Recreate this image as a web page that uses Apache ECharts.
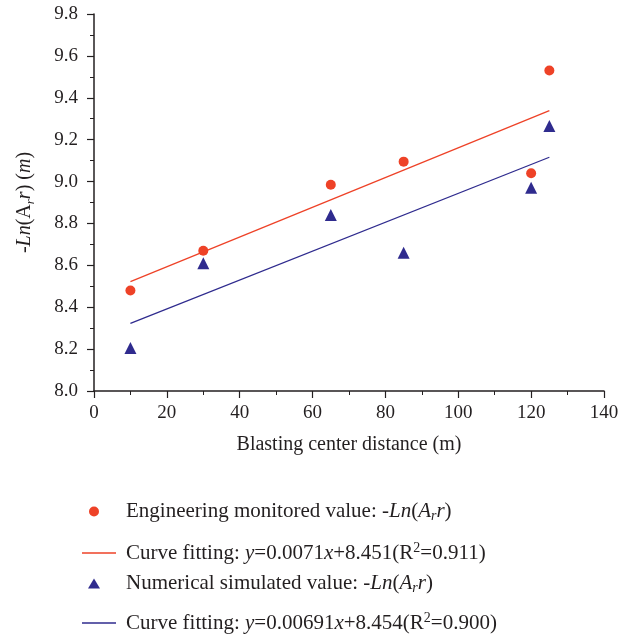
<!DOCTYPE html>
<html>
<head>
<meta charset="utf-8">
<script src="https://cdn.jsdelivr.net/npm/echarts@6/dist/echarts.min.js"></script>
<style>html,body{margin:0;padding:0;background:#fff;}#chart{width:632px;height:640px;}</style>
</head>
<body>
<div id="chart"></div>
<script>
// ---- data ----
var distances = [10, 30, 65, 85, 120, 125];
var engineeringValues = [8.48, 8.67, 8.985, 9.095, 9.04, 9.53];
var numericalValues = [8.205, 8.61, 8.84, 8.66, 8.97, 9.265];
var fitX = [10, 125];
var engineeringFitY = [8.522, 9.339];
var numericalFitY = [8.323, 9.116];
var xTicks = [0, 20, 40, 60, 80, 100, 120, 140];
var yTicks = [8.0, 8.2, 8.4, 8.6, 8.8, 9.0, 9.2, 9.4, 9.6, 9.8];
var seriesNames = ['engMon', 'engFit', 'numSim', 'numFit'];

var RED = '#EE4227';
var BLUE = '#2F2B8E';
var TXT = '#231F20';
var FONT = '"Liberation Serif", "DejaVu Serif", serif';

function pairs(xs, ys) { return xs.map(function (x, i) { return [x, ys[i]]; }); }

function makeRich(fs, lh) {
  return {
    n: { fontFamily: FONT, fontSize: fs, color: TXT, lineHeight: lh },
    i: { fontFamily: FONT, fontSize: fs, fontStyle: 'italic', color: TXT, lineHeight: lh },
    sub: { fontFamily: FONT, fontSize: Math.round(fs * 0.65), fontStyle: 'italic', color: TXT, verticalAlign: 'bottom', lineHeight: lh },
    sup: { fontFamily: FONT, fontSize: Math.round(fs * 0.65), color: TXT, verticalAlign: 'top', lineHeight: lh }
  };
}
var legendRich = makeRich(21, 24);
var axisRich = makeRich(20, 24);

var legendText = {
  engMon: '{n|Engineering monitored value: -}{i|Ln}{n|(}{i|A}{sub|r}{i|r}{n|)}',
  engFit: '{n|Curve fitting: }{i|y}{n|=0.0071}{i|x}{n|+8.451(R}{sup|2}{n|=0.911)}',
  numSim: '{n|Numerical simulated value: -}{i|Ln}{n|(}{i|A}{sub|r}{i|r}{n|)}',
  numFit: '{n|Curve fitting: }{i|y}{n|=0.00691}{i|x}{n|+8.454(R}{sup|2}{n|=0.900)}'
};
var legendIcons = ['circle', 'rect', 'triangle', 'rect'];
var legendTops = [496, 536, 568, 606];
var legendLefts = [84, 77, 83, 77];
var legendW = [10, 34, 12, 34];
var legendH = [10, 1.5, 10, 1.5];
var legendPad = [22, 5, 21, 5];

var legends = seriesNames.map(function (nm, k) {
  return {
    data: [{ name: nm, icon: legendIcons[k] }],
    left: legendLefts[k],
    top: legendTops[k],
    orient: 'vertical',
    itemWidth: legendW[k],
    itemHeight: legendH[k],
    selectedMode: false,
    formatter: function (name) { return legendText[name]; },
    textStyle: { rich: legendRich, padding: [0, 0, 0, legendPad[k]] }
  };
});

var chart = echarts.init(document.getElementById('chart'), null, { renderer: 'canvas' });
chart.setOption({
  animation: false,
  backgroundColor: '#ffffff',
  legend: legends,
  grid: { left: 94, right: 28, top: 14, bottom: 249, containLabel: false },
  xAxis: {
    type: 'value',
    min: xTicks[0], max: xTicks[xTicks.length - 1], interval: 20,
    name: 'Blasting center distance (m)',
    nameLocation: 'middle', nameGap: 44,
    nameTextStyle: { fontFamily: FONT, fontSize: 20, color: TXT },
    axisLine: { lineStyle: { color: TXT, width: 1.5 } },
    axisTick: { show: true, length: 7, lineStyle: { color: TXT, width: 1.2 } },
    minorTick: { show: true, splitNumber: 2, length: 4, lineStyle: { color: TXT, width: 1 } },
    axisLabel: { fontFamily: FONT, fontSize: 19, color: TXT, margin: 13 },
    splitLine: { show: false }
  },
  yAxis: {
    type: 'value',
    min: yTicks[0], max: yTicks[yTicks.length - 1], interval: 0.2,
    name: '{n|-}{i|Ln}{n|(A}{sub|r}{i|r}{n|) (}{i|m}{n|)}',
    nameLocation: 'middle', nameGap: 57,
    nameTextStyle: { fontFamily: FONT, fontSize: 20, color: TXT, rich: axisRich },
    axisLine: { show: true, lineStyle: { color: TXT, width: 1.5 } },
    axisTick: { show: true, length: 7, lineStyle: { color: TXT, width: 1.2 } },
    minorTick: { show: true, splitNumber: 2, length: 4, lineStyle: { color: TXT, width: 1 } },
    axisLabel: { fontFamily: FONT, fontSize: 19, color: TXT, margin: 16,
      formatter: function (v) { return v.toFixed(1); } },
    splitLine: { show: false }
  },
  series: [
    { name: 'engFit', type: 'line', data: pairs(fitX, engineeringFitY), symbol: 'none',
      lineStyle: { color: RED, width: 1.3 }, itemStyle: { color: RED }, z: 2 },
    { name: 'numFit', type: 'line', data: pairs(fitX, numericalFitY), symbol: 'none',
      lineStyle: { color: BLUE, width: 1.3 }, itemStyle: { color: BLUE }, z: 2 },
    { name: 'engMon', type: 'scatter', data: pairs(distances, engineeringValues), symbol: 'circle',
      symbolSize: 10, itemStyle: { color: RED, opacity: 1 }, z: 3 },
    { name: 'numSim', type: 'scatter', data: pairs(distances, numericalValues), symbol: 'triangle',
      symbolSize: 12, itemStyle: { color: BLUE, opacity: 1 }, z: 3 }
  ]
});
</script>
</body>
</html>
